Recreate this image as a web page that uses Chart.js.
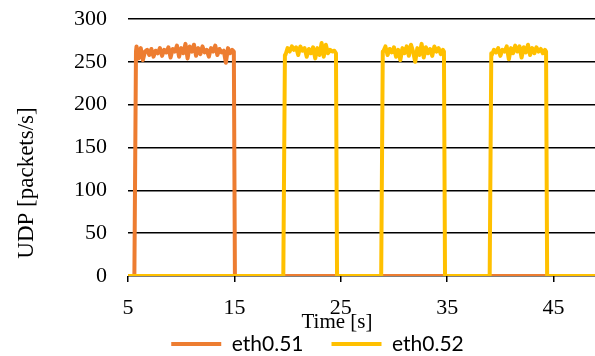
<!DOCTYPE html>
<html>
<head>
<meta charset="utf-8">
<script src="https://cdn.jsdelivr.net/npm/chart.js@4/dist/chart.umd.min.js"></script>
<style>
  html, body { margin: 0; padding: 0; background: #fff; }
  #wrap { width: 595px; height: 356px; }
</style>
</head>
<body>
<div id="wrap"><canvas id="grafico_udp"></canvas></div>
<script>
// series labels and axis texts
var nomes = ["eth0.51", "eth0.52"];
var cores = ["#ED7D31", "#FFC000"];
var tituloY = "UDP [packets/s]";
var tituloX = "Time [s]";
var ticksX = [5, 15, 25, 35, 45];

// eth0.51 : time (s) and packets/s
var tempo51 = [5, 5.6, 5.75,
  5.8, 6.0, 6.2, 6.4, 6.6, 6.8, 7.0, 7.2, 7.4, 7.6, 7.8, 8.0, 8.2, 8.4, 8.6, 8.8,
  9.0, 9.2, 9.4, 9.6, 9.8, 10.0, 10.2, 10.4, 10.6, 10.8, 11.0, 11.2, 11.4, 11.6, 11.8,
  12.0, 12.2, 12.4, 12.6, 12.8, 13.0, 13.2, 13.4, 13.6, 13.8, 14.0, 14.2, 14.4, 14.6, 14.8,
  14.95, 15.05, 48.9];
var udp51 = [0, 0, 262,
  268, 254, 266, 252, 262, 264, 258, 265, 256, 263, 260, 266, 257, 264, 261, 267,
  255, 265, 262, 269, 256, 266, 260, 271, 254, 268, 262, 270, 257, 266, 259,
  268, 261, 264, 256, 266, 262, 269, 258, 265, 261, 263, 249, 266, 260, 264,
  262, 0, 0];

// eth0.52 : time (s) and packets/s
var tempo52 = [5, 19.6, 19.75,
  19.8, 20.0, 20.2, 20.4, 20.6, 20.8, 21.0, 21.2, 21.4, 21.6, 21.8, 22.0, 22.2, 22.4,
  22.6, 22.8, 23.0, 23.2, 23.4, 23.6, 23.8, 24.0, 24.2, 24.4,
  24.55, 24.65, 28.8, 28.95,
  29.0, 29.2, 29.4, 29.6, 29.8, 30.0, 30.2, 30.4, 30.6, 30.8, 31.0, 31.2, 31.4, 31.6,
  31.8, 32.0, 32.2, 32.4, 32.6, 32.8, 33.0, 33.2, 33.4, 33.6, 33.8, 34.0, 34.2, 34.4, 34.6,
  34.7, 34.8, 39.0, 39.15,
  39.2, 39.4, 39.6, 39.8, 40.0, 40.2, 40.4, 40.6, 40.8, 41.0, 41.2, 41.4, 41.6, 41.8,
  42.0, 42.2, 42.4, 42.6, 42.8, 43.0, 43.2, 43.4, 43.6, 43.8, 44.0, 44.2,
  44.3, 44.4, 48.9];
var udp52 = [0, 0, 258,
  258, 266, 262, 268, 264, 267, 258, 268, 263, 266, 256, 265, 260, 267,
  254, 266, 258, 272, 256, 270, 260, 264, 262, 263,
  260, 0, 0, 262,
  262, 268, 258, 265, 261, 267, 256, 264, 252, 266, 260, 268, 257, 270,
  262, 250, 266, 258, 271, 255, 267, 260, 265, 257, 268, 262, 266, 259, 264,
  262, 0, 0, 260,
  258, 264, 261, 266, 257, 264, 262, 268, 253, 266, 260, 269, 262, 268,
  255, 267, 261, 270, 258, 266, 260, 267, 262, 265, 260, 264,
  262, 0, 0];

function pontos(ts, vs) {
  return ts.map(function (t, i) { return { x: t, y: vs[i] }; });
}

// axis titles drawn by hand (the original places them off-centre)
var titulosEixos = {
  id: 'titulosEixos',
  beforeLayout: function (chart) {
    // keep the legend band short while its item spacing stays wide
    var lg = chart.legend;
    if (lg && !lg._fitCurto) {
      var fitOriginal = lg.fit;
      lg.fit = function () { fitOriginal.call(this); this.height = 36; };
      lg._fitCurto = true;
    }
  },
  afterLayout: function (chart) {
    // legend sits a little right of centre and a bit higher in the original
    var lg = chart.legend;
    if (lg) { lg.left += 20; lg.right += 20; lg.top -= 14.5; }
  },
  afterDraw: function (chart) {
    var ctx = chart.ctx, area = chart.chartArea;
    ctx.save();
    ctx.fillStyle = '#000';
    ctx.textAlign = 'center';
    ctx.font = '23px "Liberation Serif"';
    ctx.textBaseline = 'middle';
    ctx.translate(27, area.bottom - 93);
    ctx.rotate(-Math.PI / 2);
    ctx.fillText(tituloY, 0, 0);
    ctx.restore();
    ctx.save();
    ctx.fillStyle = '#000';
    ctx.textAlign = 'center';
    ctx.textBaseline = 'alphabetic';
    ctx.font = '21px "Liberation Serif"';
    ctx.fillText(tituloX, area.left + 209, area.bottom + 52);
    ctx.restore();
  }
};

new Chart(document.getElementById("grafico_udp"), {
  type: 'line',
  data: {
    datasets: [{
      label: nomes[0],
      data: pontos(tempo51, udp51),
      borderColor: cores[0],
      backgroundColor: cores[0],
      borderWidth: 4,
      borderCapStyle: 'round',
      borderJoinStyle: 'round',
      pointRadius: 0,
      order: 1
    }, {
      label: nomes[1],
      data: pontos(tempo52, udp52),
      borderColor: cores[1],
      backgroundColor: cores[1],
      borderWidth: 4,
      borderCapStyle: 'round',
      borderJoinStyle: 'round',
      pointRadius: 0,
      order: 0
    }]
  },
  options: {
    responsive: true,
    maintainAspectRatio: false,
    animation: false,
    layout: { padding: { top: 19, right: 0, left: 0, bottom: 0 } },
    scales: {
      x: {
        type: 'linear',
        min: 5,
        max: 48.9,
        afterBuildTicks: function (scale) {
          scale.ticks = ticksX.map(function (v) { return { value: v }; });
        },
        afterFit: function (scale) { scale.height = 44; },
        border: { display: false },
        grid: { drawOnChartArea: false, drawTicks: true, tickLength: 6, color: '#000', lineWidth: 1.5 },
        ticks: { color: '#000', padding: 13, maxRotation: 0, font: { family: 'Liberation Serif', size: 22 } }
      },
      y: {
        min: 0,
        max: 300,
        afterFit: function (scale) {
          scale.width = 128;
          scale.paddingTop = 0;
          scale.paddingBottom = 0;
        },
        border: { display: false },
        grid: { drawTicks: false, color: '#000', lineWidth: 1.6 },
        ticks: { stepSize: 50, color: '#000', padding: 21, font: { family: 'Liberation Serif', size: 22 } }
      }
    },
    plugins: {
      legend: {
        position: 'bottom',
        labels: {
          usePointStyle: true,
          pointStyle: 'line',
          pointStyleWidth: 50,
          padding: 28,
          color: '#000',
          font: { family: 'Lato', size: 21 },
          sort: function (a, b) { return a.datasetIndex - b.datasetIndex; }
        }
      },
      tooltip: { enabled: false }
    }
  },
  plugins: [titulosEixos]
});
</script>
</body>
</html>
